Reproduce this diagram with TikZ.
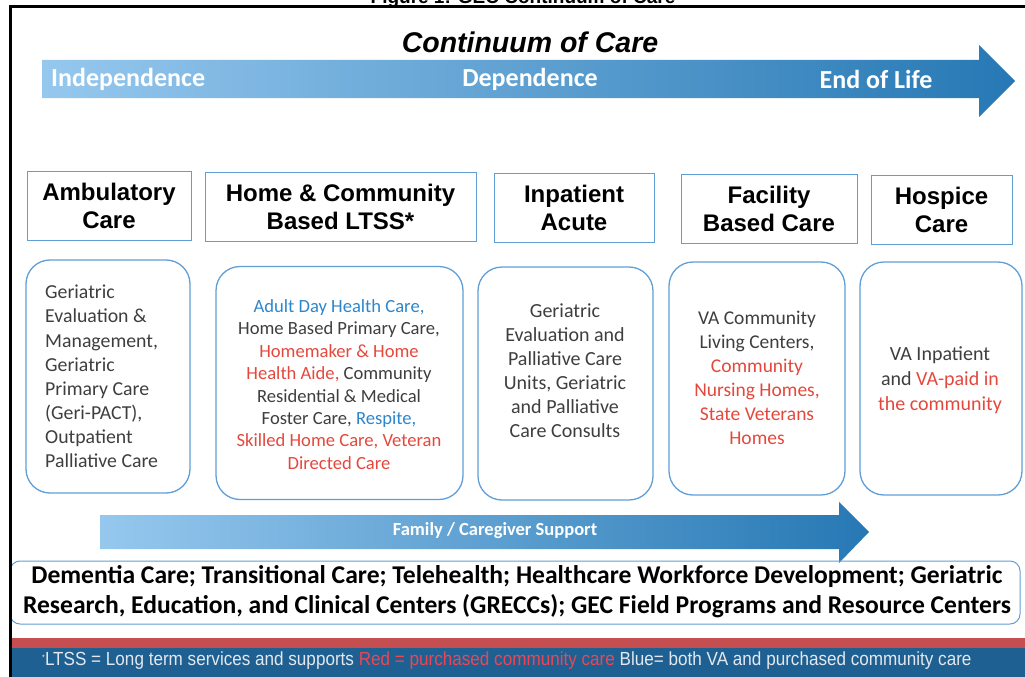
\documentclass[tikz,border=0pt]{standalone}
\usepackage{fontspec}
\setmainfont{Carlito}
\newfontfamily\headfont{Liberation Sans}
\newfontfamily\notefont{Liberation Sans}[FakeStretch=0.9]

\definecolor{frameblue}{RGB}{96,158,214}
\definecolor{textgray}{RGB}{62,62,62}
\definecolor{itemblue}{RGB}{44,134,204}
\definecolor{itemred}{RGB}{228,72,60}
\definecolor{arrowlight}{RGB}{150,200,238}
\definecolor{arrowdark}{RGB}{38,120,180}
\definecolor{stripered}{RGB}{196,78,80}
\definecolor{bandblue}{RGB}{30,96,146}
\definecolor{notegray}{RGB}{228,232,238}
\definecolor{notered}{RGB}{236,70,84}

\newcommand{\rd}[1]{\textcolor{itemred}{#1}}
\newcommand{\bl}[1]{\textcolor{itemblue}{#1}}

\tikzset{
  headbox/.style={draw=frameblue, line width=1pt, inner sep=0pt, align=center,
    font=\headfont\bfseries\fontsize{24}{28}\selectfont},
  carebox/.style={draw=frameblue, line width=1.3pt, rounded corners=24pt, inner sep=0pt},
  caretext/.style={align=center, text=textgray, inner sep=0pt},
  bandtext/.style={text=white, inner sep=0pt, font=\bfseries\fontsize{26}{30}\selectfont},
}

\begin{document}
\begin{tikzpicture}[x=1pt,y=-1pt]
  \useasboundingbox (0,0) rectangle (1025,677);
  \clip (0,0) rectangle (1025,677);
  % caption above the frame
  \node [anchor=base, font=\headfont\bfseries\fontsize{19}{22}\selectfont] (caption) at (523,4) {Figure 1: GEC Continuum of Care};

  % main arrow
  \shade [left color=arrowlight, right color=arrowdark]
    (42,60) -- (979,60) -- (979,45) -- (1015,81) -- (979,117) -- (979,98) -- (42,98) -- cycle;
  \node [font=\headfont\bfseries\itshape\fontsize{28.5}{30}\selectfont] (title) at (530,42) {Continuum of Care};
  \node [bandtext, anchor=west] (indep) at (51,79) {Independence};
  \node [bandtext] (dep) at (530,79) {Dependence};
  \node [bandtext] (eol) at (876,79) {End of Life};

  % headings
  \foreach \n/\x/\y/\w/\t in {amb/109/206/164/{Ambulatory\\Care},
      home/340.5/206.5/271/{Home \& Community\\Based LTSS*},
      inpat/574/207.5/160/{Inpatient\\Acute},
      facil/769/208.5/176/{Facility\\Based Care},
      hosp/941.5/209.5/141/{Hospice\\Care}}{
    \node [headbox, minimum width=\w pt, minimum height=69pt] (\n head) at (\x,\y) {\t};
  }

  % service boxes
  \foreach \n/\x/\y/\w in {amb/108/376.5/164, home/339.5/383/247, inpat/565.5/383.5/175,
      facil/757/378.5/176, hosp/941/378.5/162}{
    \node [carebox, minimum width=\w pt, minimum height=233pt] (\n box) at (\x,\y) {};
  }

  \node [caretext, align=left, anchor=west, font=\fontsize{19.8}{24.1}\selectfont] (amblist) at (45,376.5)
    {Geriatric\\Evaluation \&\\Management,\\Geriatric\\Primary Care\\(Geri-PACT),\\Outpatient\\Palliative Care};
  \node [caretext, font=\fontsize{18.6}{22.4}\selectfont] (homelist) at (339,384.5)
    {\bl{Adult Day Health Care,}\\Home Based Primary Care,\\\rd{Homemaker \& Home}\\\rd{Health Aide,} Community\\Residential \& Medical\\Foster Care, \bl{Respite,}\\\rd{Skilled Home Care, Veteran}\\\rd{Directed Care}};
  \node [caretext, font=\fontsize{20}{24}\selectfont] (inpatlist) at (565,371)
    {Geriatric\\Evaluation and\\Palliative Care\\Units, Geriatric\\and Palliative\\Care Consults};
  \node [caretext, font=\fontsize{19.5}{24}\selectfont] (facillist) at (757,378)
    {VA Community\\Living Centers,\\\rd{Community}\\\rd{Nursing Homes,}\\\rd{State Veterans}\\\rd{Homes}};
  \node [caretext, font=\fontsize{20}{25}\selectfont] (hosplist) at (940,380)
    {VA Inpatient\\and \rd{VA-paid in}\\\rd{the community}};

  % family arrow
  \shade [left color=arrowlight, right color=arrowdark]
    (100,515) -- (839,515) -- (839,502) -- (869,532) -- (839,563) -- (839,549) -- (100,549) -- cycle;
  \node [bandtext, font=\bfseries\fontsize{18.5}{20}\selectfont] (family) at (495,531) {Family / Caregiver Support};

  % programs box
  \node [draw=frameblue, line width=1pt, rounded corners=10pt, minimum width=1010pt, minimum height=63pt] (progbox) at (515,592.5) {};
  \node [align=center, inner sep=0pt, font=\bfseries\fontsize{25.6}{30}\selectfont] (progtext) at (517,592)
    {Dementia Care; Transitional Care; Telehealth; Healthcare Workforce Development; Geriatric\\Research, Education, and Clinical Centers (GRECCs); GEC Field Programs and Resource Centers};

  % legend band
  \fill [stripered] (10,638) rectangle (1025,648);
  \fill [bandblue] (10,648) rectangle (1025,677);
  \node [anchor=west, inner sep=0pt, text=notegray, font=\notefont\fontsize{19}{20}\selectfont] (note) at (42,661)
    {\raisebox{5pt}{\fontsize{8}{8}\selectfont*}LTSS = Long term services and supports  \textcolor{notered}{Red = purchased community care}  Blue= both VA and purchased community care};

  % frame
  \draw [line width=3pt] (10,677) -- (10,7) -- (1025,7);
\end{tikzpicture}
\end{document}
